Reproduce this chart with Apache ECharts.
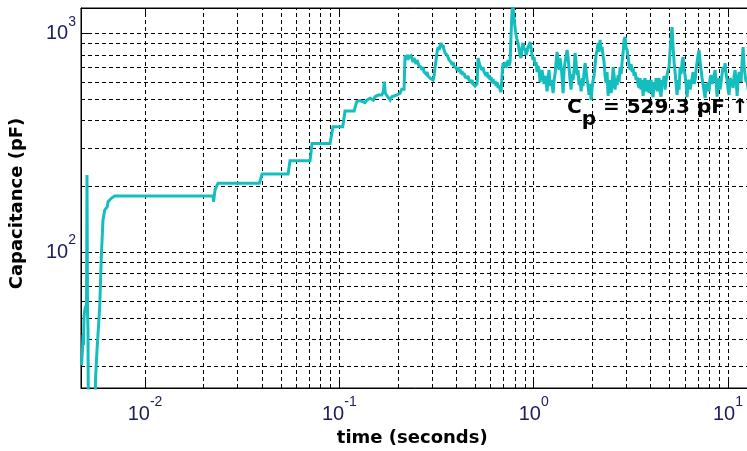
<!DOCTYPE html>
<html><head><meta charset="utf-8">
<script src="https://cdn.jsdelivr.net/npm/echarts@6/dist/echarts.min.js"></script>
<style>html,body{margin:0;padding:0;background:#fff}#c{width:747px;height:451px}</style>
</head><body><div id="c"></div>
<script>
// time (s)
const times = [
 0.004711,0.004767,0.004797,0.004825,0.004854,0.004883,0.004941,0.005000,0.005029,0.005059,0.005089,0.005125,0.005496,0.005561,0.005662,0.005846,0.005957,0.006078,0.006203,0.006397,0.006451,0.006709,0.006982,
 0.02239,0.02252,0.02293,0.02375,0.03877,0.04003,0.05445,0.05576,0.07066,0.07236,0.08956,0.09281,0.1041,0.1070,0.1191,0.1219,0.1229,0.1278,0.1356,0.1384,0.1439,0.1496,0.1527,0.1588,0.1653,0.1684,0.1704,0.1724,0.1754,0.1824,0.1861,0.1896,0.1974,0.2053,0.2095,0.2153,
 0.21785,0.22045,0.22308,0.22574,0.22843,
 0.23110,0.23385,0.23664,0.23946,0.24232,0.24521,0.24813,0.25109,0.25408,0.25711,
 0.26023,0.26333,0.26647,0.26965,0.27286,0.27611,0.27940,0.28274,0.28611,0.28952,
 0.29299,0.29648,0.30001,0.30359,0.30721,0.31087,0.31458,0.31833,0.32212,0.32596,
 0.32983,0.33376,0.33774,0.34177,0.34584,0.34996,0.35413,0.35836,0.36263,0.36695,
 0.37126,0.37569,0.38016,0.38470,0.38928,0.39392,0.39862,0.40337,0.40818,0.41304,
 0.41800,0.42298,0.42802,0.43312,0.43829,0.44351,0.44880,0.45415,0.45956,0.46504,
 0.47066,0.47627,0.48195,0.48769,0.49351,0.49939,0.50534,0.51137,0.51746,0.52363,
 0.52987,0.53619,0.54258,0.54905,0.55559,0.56221,0.56892,0.57570,0.58256,0.58950,
 0.59650,0.60361,0.61081,0.61809,0.62545,0.63291,0.64045,0.64809,0.65581,0.66363,
 0.67154,0.67955,0.68764,0.69584,0.70414,0.71253,0.72102,0.72962,0.73832,0.74711,
 0.75602,0.76503,0.77415,0.78338,0.79272,0.80217,0.81173,0.82141,0.83120,0.84110,
 0.85114,0.86129,0.87155,0.88194,0.89245,0.90309,0.91386,0.92475,0.93577,0.94693,
 0.95823,0.96965,0.98121,0.99290,1.00474,1.01672,1.02884,1.04110,1.05351,1.06607,
 1.0788,1.0917,1.1047,1.1178,1.1312,1.1446,1.1583,1.1721,1.1861,1.2002,
 1.2145,1.2290,1.2436,1.2585,1.2735,1.2886,1.3040,1.3195,1.3353,1.3512,
 1.3673,1.3836,1.4001,1.4168,1.4337,1.4508,1.4681,1.4856,1.5033,1.5212,
 1.5393,1.5577,1.5762,1.5950,1.6140,1.6333,1.6527,1.6724,1.6924,1.7125,
 1.7330,1.7537,1.7746,1.7957,1.8171,1.8388,1.8607,1.8829,1.9053,1.9280,
 1.9510,1.9743,1.9978,2.0216,2.0457,2.0701,2.0947,2.1197,2.1450,2.1706,
 2.1964,2.2226,2.2491,2.2759,2.3030,2.3305,2.3583,2.3864,2.4148,2.4436,
 2.4727,2.5022,2.5320,2.5622,2.5927,2.6236,2.6549,2.6865,2.7186,2.7510,
 2.7838,2.8170,2.8505,2.8845,2.9189,2.9537,2.9889,3.0245,3.0606,3.0970,
 3.1340,3.1713,3.2091,3.2474,3.2861,3.3253,3.3649,3.4050,3.4456,3.4867,
 3.5283,3.5704,3.6129,3.6560,3.6996,3.7437,3.7883,3.8334,3.8791,3.9254,
 3.9722,4.0195,4.0674,4.1159,4.1650,4.2147,4.2649,4.3158,4.3672,4.4193,
 4.4718,4.5251,4.5791,4.6336,4.6889,4.7448,4.8013,4.8586,4.9165,4.9750,
 5.0345,5.0945,5.1552,5.2167,5.2789,5.3418,5.4054,5.4699,5.5351,5.6010,
 5.6678,5.7354,5.8037,5.8729,5.9429,6.0138,6.0854,6.1580,6.2314,6.3056,
 6.3808,6.4569,6.5338,6.6117,6.6905,6.7703,6.8510,6.9326,7.0153,7.0989,
 7.1835,7.2691,7.3558,7.4435,7.5322,7.6220,7.7128,7.8048,7.8978,7.9919,
 8.0872,8.1836,8.2811,8.3798,8.4797,8.5808,8.6831,8.7866,8.8913,8.9973,
 9.1046,9.2131,9.3229,9.4340,9.5465,9.6603,9.7754,9.8919,10.010,10.129,
 10.252,10.374,10.498,10.623,10.750,10.878,11.007,11.139,11.271,11.406,
 11.540,11.678,11.817,11.958,12.100,12.245,12.391,12.538,12.688
];
// capacitance (pF)
const capacitance = [
 30.5,35.7,41.9,37.6,50.1,53.3,56.8,54.5,225.7,54.5,44.1,8,8,26.1,35.7,56.2,95.2,140.5,156.1,161.7,170.4,176.6,181,
 181,170.4,192.8,207,207,228,228,262,262,315,315,375,375,443,443,477,489,494,484,497,507,497,515,524,524,543,603,534,524,497,515,507,524,534,557,557,
 799,758,782,799,774,
 758,791,774,742,774,750,727,758,734,712,
 727,704,682,704,668,682,654,668,641,654,
 627,614,634,614,641,704,758,825,869,842,
 879,907,869,888,842,816,833,799,782,758,
 774,742,719,742,712,727,697,682,704,668,
 690,654,675,647,661,634,647,627,641,614,
 627,601,614,589,601,576,564,589,774,742,
 712,727,682,704,668,682,641,668,627,647,
 614,634,595,621,589,608,576,601,564,582,
 553,541,647,734,712,742,697,727,758,712,
 742,986,1283,1320,1180,1062,986,936,907,842,
 799,774,869,907,842,860,799,825,869,888,
 916,860,799,758,782,712,742,668,712,682,
 601,654,682,627,589,641,614,545,627,682,
 576,614,589,535,614,654,742,825,758,682,
 774,712,634,535,682,742,791,842,774,697,
 614,555,654,614,682,816,742,647,682,582,
 614,545,627,576,668,734,682,614,576,525,
 589,497,564,614,641,719,799,842,907,825,
 936,842,869,791,742,641,595,668,520,589,
 614,535,582,704,647,555,627,582,647,601,
 704,654,742,816,936,966,860,842,782,719,
 682,727,668,697,641,668,614,634,589,565,
 627,555,614,520,601,627,545,565,614,535,
 595,614,545,512,601,555,627,545,601,627,
 545,515,614,589,641,555,614,647,682,704,
 842,956,1073,869,742,668,589,525,614,555,
 704,654,742,782,682,647,589,512,601,614,
 555,565,627,668,589,614,682,742,799,842,
 742,682,627,614,545,508,589,545,601,545,
 627,647,589,601,641,682,601,515,589,627,
 555,565,654,704,668,734,654,614,555,525,
 627,634,589,565,641,682,614,520,614,668,
 641,601,742,869,712,647,601,614,555
];
const xGridLines = [0.005,0.006,0.007,0.008,0.009,0.01,0.02,0.03,0.04,0.05,0.06,0.07,0.08,0.09,0.1,0.2,0.3,0.4,0.5,0.6,0.7,0.8,0.9,1,2,3,4,5,6,7,8,9,10];
const yGridLines = [30,40,50,60,70,80,90,100,200,300,400,500,600,700,800,900,1000];
const xRange = [0.004684, 20];
const yRange = [23.95, 1311];
const annotationText = '{n|C}{s|p}{n| = 529.3 pF ↑}';

const labelColor = '#1c1c5c';
function powLabel(v) {
  const e = Math.round(Math.log10(v));
  if (Math.abs(Math.log10(v) - e) > 1e-6) return '';
  return '{b|10}{s|' + e + '}';
}
const labelRich = {
  b: {fontFamily: 'Liberation Sans', fontSize: 20, lineHeight: 20, verticalAlign: 'bottom', color: labelColor},
  s: {fontFamily: 'Liberation Sans', fontSize: 14, lineHeight: 14, padding: [0,0,15,0], verticalAlign: 'bottom', color: labelColor}
};
const nameStyle = {fontFamily: 'DejaVu Sans', fontWeight: 'bold', fontSize: 18, color: '#000'};

const chart = echarts.init(document.getElementById('c'));
chart.setOption({
  animation: false,
  backgroundColor: '#fff',
  grid: {left: 81, top: 8, width: 705.5, height: 380, show: true, borderColor: '#000', borderWidth: 1, backgroundColor: 'transparent', containLabel: false, outerBoundsMode: 'none'},
  xAxis: [{
    type: 'log', logBase: 10, min: xRange[0], max: xRange[1], position: 'bottom',
    axisLine: {show: true, lineStyle: {color: '#000', width: 1}},
    axisTick: {show: true, inside: true, length: 7, lineStyle: {color: '#000'}},
    axisLabel: {formatter: powLabel, rich: labelRich, margin: 16},
    splitLine: {show: false}, minorTick: {show: false}, minorSplitLine: {show: false},
    name: 'time (seconds)', nameLocation: 'middle', nameGap: 41, nameMoveOverlap: false,
    nameTextStyle: Object.assign({padding: [0, 43, 0, 0]}, nameStyle)
  }, {
    type: 'log', logBase: 10, min: xRange[0], max: xRange[1], position: 'top',
    axisLine: {show: true, lineStyle: {color: '#000', width: 1}},
    axisTick: {show: true, inside: true, length: 7, lineStyle: {color: '#000'}},
    axisLabel: {show: false}, splitLine: {show: false}
  }],
  yAxis: [{
    type: 'log', logBase: 10, min: yRange[0], max: yRange[1],
    axisLine: {show: true, lineStyle: {color: '#000', width: 1}},
    axisTick: {show: true, inside: true, length: 7, lineStyle: {color: '#000'}},
    axisLabel: {formatter: powLabel, rich: labelRich, margin: 5},
    splitLine: {show: false}, minorTick: {show: false}, minorSplitLine: {show: false},
    name: 'Capacitance (pF)', nameLocation: 'middle', nameGap: 55, nameRotate: 90, nameMoveOverlap: false,
    nameTextStyle: Object.assign({padding: [0, 11, 0, 0]}, nameStyle)
  }],
  series: [{
    type: 'line', data: [], z: 1, silent: true,
    markLine: {
      silent: true, symbol: ['none', 'none'], z: 1, animation: false,
      label: {show: false},
      lineStyle: {type: [4, 3], color: '#000', width: 1},
      emphasis: {disabled: true},
      data: xGridLines.map(v => ({xAxis: v})).concat(yGridLines.map(v => ({yAxis: v})))
    }
  }, {
    type: 'line', z: 3, showSymbol: false, symbol: 'none', clip: true, sampling: null,
    lineStyle: {color: '#14bebe', width: 3, join: 'miter', miterLimit: 2},
    data: times.map((t, i) => [t, capacitance[i]])
  }],
  graphic: [{
    type: 'text', left: 567, top: 98, z: 100,
    style: {
      text: annotationText,
      fill: '#000',
      rich: {
        n: {fontFamily: 'DejaVu Sans', fontWeight: 'bold', fontSize: 20, lineHeight: 20, verticalAlign: 'top', fill: '#000'},
        s: {fontFamily: 'DejaVu Sans', fontWeight: 'bold', fontSize: 20, lineHeight: 20, padding: [12,0,0,0], verticalAlign: 'top', fill: '#000'}
      }
    }
  }]
});
</script></body></html>
